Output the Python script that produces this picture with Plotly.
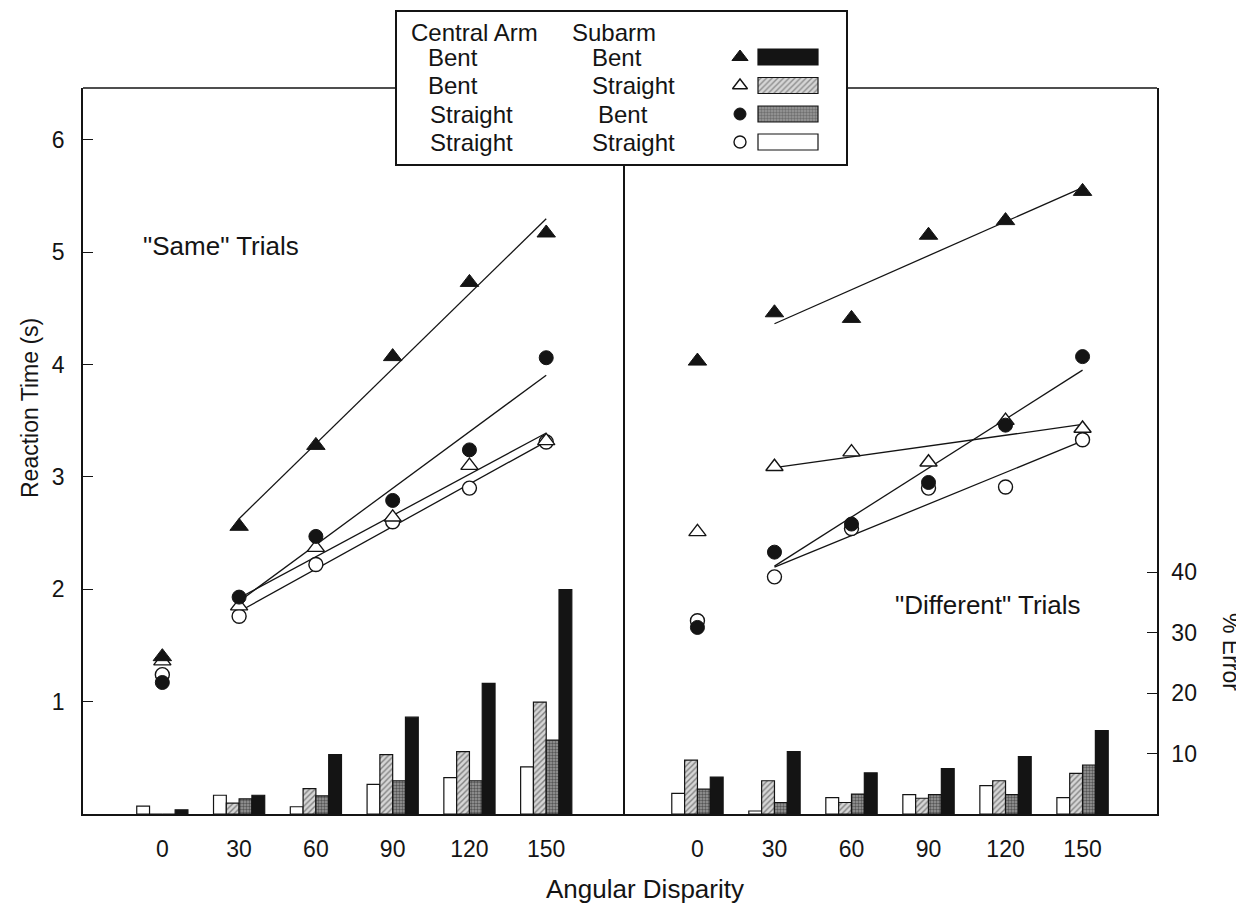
import numpy as np
import plotly.graph_objects as go

# ---------------- data ----------------
angles = [0, 30, 60, 90, 120, 150]
fit_angles = [30, 60, 90, 120, 150]

# Reaction time (s), "Same" trials
rt_same_bb = [1.40, 2.56, 3.28, 4.07, 4.73, 5.17]
rt_same_bs = [1.36, 1.85, 2.37, 2.64, 3.10, 3.32]
rt_same_sb = [1.17, 1.93, 2.47, 2.79, 3.24, 4.06]
rt_same_ss = [1.24, 1.76, 2.22, 2.60, 2.90, 3.31]

# Reaction time (s), "Different" trials
rt_diff_bb = [4.03, 4.46, 4.41, 5.15, 5.28, 5.54]
rt_diff_bs = [2.51, 3.09, 3.22, 3.13, 3.50, 3.43]
rt_diff_sb = [1.66, 2.33, 2.58, 2.95, 3.46, 4.07]
rt_diff_ss = [1.72, 2.11, 2.54, 2.90, 2.91, 3.33]

# % Error, "Same" trials
err_same_ss = [1.3, 3.1, 1.2, 4.9, 6.0, 7.8]
err_same_bs = [0.0, 1.8, 4.2, 9.8, 10.3, 18.5]
err_same_sb = [0.0, 2.5, 3.0, 5.5, 5.5, 12.2]
err_same_bb = [0.7, 3.1, 9.8, 16.0, 21.6, 37.1]

# % Error, "Different" trials
err_diff_ss = [3.4, 0.5, 2.7, 3.2, 4.7, 2.7]
err_diff_bs = [8.9, 5.5, 1.9, 2.6, 5.5, 6.7]
err_diff_sb = [4.1, 1.9, 3.3, 3.2, 3.2, 8.1]
err_diff_bb = [6.1, 10.3, 6.8, 7.5, 9.5, 13.8]

rt_ticks = [1, 2, 3, 4, 5, 6]
err_ticks = [10, 20, 30, 40]

legend_central = ["Bent", "Bent", "Straight", "Straight"]
legend_sub = ["Bent", "Straight", "Bent", "Straight"]

# ---------------- styles ----------------
FONT = "Liberation Sans, Arial, sans-serif"
INK = "#141414"

OFF = 8  # page body margin
W, H = 1244 - OFF, 907 - OFF
ML, MR, MT, MB = 83 - OFF, 87, 10 - OFF, 93
PW, PH = W - ML - MR, H - MT - MB
split = 540 / PW
main_top = 726 / PH


def px_x(px):
    return (px - OFF - ML) / PW


def px_y(py):
    return (H + OFF - MB - py) / PH


bar_styles = {
    "ss": dict(color="white", line=dict(color=INK, width=1.2)),
    "bs": dict(color="#d6d6d6", line=dict(color=INK, width=1.2),
               pattern=dict(shape="/", fgcolor="#2a2a2a", bgcolor="#d6d6d6", size=4, solidity=0.35)),
    "sb": dict(color="#8c8c8c", line=dict(color=INK, width=1.2),
               pattern=dict(shape=".", fgcolor="#111111", bgcolor="#9a9a9a", size=3, solidity=0.5)),
    "bb": dict(color=INK, line=dict(color=INK, width=1.2)),
}
marker_styles = {
    "ss": dict(symbol="circle", size=14, color="white", line=dict(color=INK, width=1.4)),
    "bs": dict(symbol="triangle-up", size=15, color="white", line=dict(color=INK, width=1.4)),
    "sb": dict(symbol="circle", size=14, color=INK, line=dict(color=INK, width=1)),
    "bb": dict(symbol="triangle-up", size=16, color=INK, line=dict(color=INK, width=1)),
}

fig = go.Figure()

panels = [
    dict(x="x", ybar="y", yrt="y2",
         err={"ss": err_same_ss, "bs": err_same_bs, "sb": err_same_sb, "bb": err_same_bb},
         rt={"ss": rt_same_ss, "bs": rt_same_bs, "sb": rt_same_sb, "bb": rt_same_bb}),
    dict(x="x2", ybar="y3", yrt="y4",
         err={"ss": err_diff_ss, "bs": err_diff_bs, "sb": err_diff_sb, "bb": err_diff_bb},
         rt={"ss": rt_diff_ss, "bs": rt_diff_bs, "sb": rt_diff_sb, "bb": rt_diff_bb}),
]

for p in panels:
    for key in ["ss", "bs", "sb", "bb"]:
        fig.add_trace(go.Bar(x=angles, y=p["err"][key], xaxis=p["x"], yaxis=p["ybar"],
                             marker=bar_styles[key], showlegend=False, hoverinfo="skip"))
    # regression lines over 30-150 deg
    for key in ["bb", "bs", "sb", "ss"]:
        vals = p["rt"][key][1:]
        slope, icpt = np.polyfit(fit_angles, vals, 1)
        xs = [fit_angles[0], fit_angles[-1]]
        fig.add_trace(go.Scatter(x=xs, y=[slope * v + icpt for v in xs], mode="lines",
                                 xaxis=p["x"], yaxis=p["yrt"],
                                 line=dict(color=INK, width=1.3), showlegend=False, hoverinfo="skip"))
    for key in ["ss", "bs", "sb", "bb"]:
        fig.add_trace(go.Scatter(x=angles, y=p["rt"][key], mode="markers",
                                 xaxis=p["x"], yaxis=p["yrt"],
                                 marker=marker_styles[key], showlegend=False))

# ---------------- legend box (own small axes) ----------------
lg_x0, lg_x1 = px_x(397), px_x(846)
lg_y0, lg_y1 = px_y(164), px_y(12)
LW, LH = 449.0, 152.0
row_py = [57, 85.5, 114, 142]
row_y = [(164 - v) / LH for v in row_py]
sym_x = (740 - 397) / LW
sw_x0 = (758 - 397) / LW
sw_len = (818 - 758) / LW

fig.add_trace(go.Bar(
    y=row_y, x=[sw_len] * 4, base=[sw_x0] * 4, orientation="h", width=[16 / LH] * 4,
    xaxis="x3", yaxis="y5", showlegend=False, hoverinfo="skip",
    marker=dict(
        color=[INK, "#d6d6d6", "#9a9a9a", "white"],
        line=dict(color=INK, width=1.2),
        pattern=dict(shape=["", "/", ".", ""],
                     fgcolor=[INK, "#2a2a2a", "#111111", INK],
                     bgcolor=[INK, "#d6d6d6", "#9a9a9a", "white"],
                     size=[4, 4, 3, 4], solidity=[0.5, 0.35, 0.5, 0.5]),
    ),
))
for i, key in enumerate(["bb", "bs", "sb", "ss"]):
    ms = dict(marker_styles[key])
    ms["size"] = ms["size"] - 2
    fig.add_trace(go.Scatter(x=[sym_x], y=[row_y[i]], mode="markers", xaxis="x3", yaxis="y5",
                             marker=ms, showlegend=False, hoverinfo="skip"))

annotations = []
lf = dict(family=FONT, size=24, color=INK)
annotations.append(dict(x=(409 - 397) / LW, y=(164 - 32) / LH, xref="x3", yref="y5", text="Central Arm",
                        showarrow=False, xanchor="left", yanchor="middle", font=lf))
annotations.append(dict(x=(570 - 397) / LW, y=(164 - 32) / LH, xref="x3", yref="y5", text="Subarm",
                        showarrow=False, xanchor="left", yanchor="middle", font=lf))
col1_px = [426, 426, 428, 428]
col2_px = [590, 590, 596, 590]
for i in range(4):
    annotations.append(dict(x=(col1_px[i] - 397) / LW, y=row_y[i], xref="x3", yref="y5",
                            text=legend_central[i], showarrow=False, xanchor="left", yanchor="middle", font=lf))
    annotations.append(dict(x=(col2_px[i] - 397) / LW, y=row_y[i], xref="x3", yref="y5",
                            text=legend_sub[i], showarrow=False, xanchor="left", yanchor="middle", font=lf))

tf = dict(family=FONT, size=26, color=INK)
annotations += [
    dict(x=23, y=5.05, xref="x", yref="y2", text='"Same" Trials', showarrow=False, font=tf),
    dict(x=113, y=1.86, xref="x2", yref="y4", text='"Different" Trials', showarrow=False, font=tf),
    dict(x=px_x(645), y=px_y(889), xref="paper", yref="paper", text="Angular Disparity",
         showarrow=False, font=tf, xanchor="center", yanchor="middle"),
    dict(x=px_x(30), y=px_y(408), xref="paper", yref="paper", text="Reaction Time (s)",
         showarrow=False, font=dict(family=FONT, size=23, color=INK), textangle=-90,
         xanchor="center", yanchor="middle"),
    dict(x=px_x(1231), y=px_y(652), xref="paper", yref="paper", text="% Error",
         showarrow=False, font=dict(family=FONT, size=23, color=INK), textangle=90,
         xanchor="center", yanchor="middle"),
]

axis_common = dict(showgrid=False, zeroline=False, linecolor=INK, linewidth=1.5,
                   tickfont=dict(family=FONT, size=23, color=INK), fixedrange=True)

fig.update_layout(
    width=W, height=H,
    margin=dict(l=ML, r=MR, t=MT, b=MB),
    paper_bgcolor="white", plot_bgcolor="white",
    barmode="group", bargap=1 / 3, bargroupgap=0,
    font=dict(family=FONT, color=INK),
    xaxis=dict(domain=[0, split], range=[-31, 180], anchor="y", tickvals=angles, ticks="",
               showline=True, ticklabelstandoff=14, **axis_common),
    yaxis=dict(domain=[0, main_top], range=[0, 120], anchor="x", side="right", showline=True,
               showticklabels=False, ticks="", **axis_common),
    yaxis2=dict(overlaying="y", range=[0, 6.46], anchor="x", side="left", tickvals=rt_ticks,
                ticks="inside", ticklen=10, tickwidth=1.3, tickcolor=INK, showline=True,
                ticklabelstandoff=12, **axis_common),
    xaxis2=dict(domain=[split, 1], range=[-29, 179], anchor="y3", tickvals=angles, ticks="",
                showline=True, ticklabelstandoff=14, **axis_common),
    yaxis3=dict(domain=[0, main_top], range=[0, 120], anchor="x2", side="right", tickvals=err_ticks,
                ticks="inside", ticklen=10, tickwidth=1.3, tickcolor=INK, showline=True,
                ticklabelstandoff=8, **axis_common),
    yaxis4=dict(overlaying="y3", range=[0, 6.46], anchor="x2", visible=False, fixedrange=True),
    xaxis3=dict(domain=[lg_x0, lg_x1], range=[0, 1], anchor="y5", showline=True, mirror=True,
                linecolor=INK, linewidth=1.5, showticklabels=False, ticks="", showgrid=False,
                zeroline=False, fixedrange=True),
    yaxis5=dict(domain=[lg_y0, lg_y1], range=[0, 1], anchor="x3", showline=True, mirror=True,
                linecolor=INK, linewidth=1.5, showticklabels=False, ticks="", showgrid=False,
                zeroline=False, fixedrange=True),
    annotations=annotations,
    shapes=[
        dict(type="line", xref="x domain", yref="y domain", x0=0, x1=(397 - 83) / 540, y0=1, y1=1,
             line=dict(color=INK, width=1.5)),
        dict(type="line", xref="x2 domain", yref="y3 domain", x0=(846 - 623) / (1157 - 623), x1=1,
             y0=1, y1=1, line=dict(color=INK, width=1.5)),
    ],
)

fig.write_html("out.html")
